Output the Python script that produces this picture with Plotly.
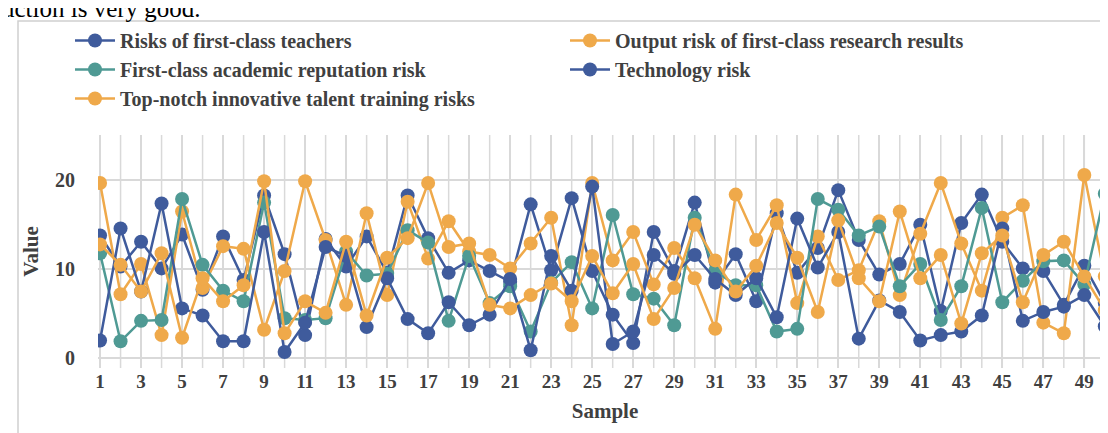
import plotly.graph_objects as go

samples = list(range(1, 51))

teachers = [13.8, 10.3, 13.1, 10.1, 13.9, 7.7, 13.7, 8.8, 18.3, 11.7, 2.6, 13.4, 10.3, 13.7, 9.6, 18.3, 13.5, 9.6, 11.0, 9.8,
            8.6, 17.3, 9.9, 18.0, 9.8, 4.9, 1.7, 14.2, 9.8, 17.5, 8.5, 11.7, 6.4, 16.3, 9.6, 12.4, 18.9, 13.3, 9.4, 10.6,
            15.0, 5.3, 15.2, 18.4, 13.1, 10.1, 9.8, 6.0, 10.4, 6.2]
output_research = [19.7, 7.2, 10.6, 2.6, 16.5, 7.9, 12.6, 12.3, 3.2, 9.8, 19.9, 13.3, 6.0, 16.3, 7.1, 17.6, 11.2, 15.4, 12.0, 11.6,
                   10.1, 12.9, 15.8, 3.7, 19.7, 11.0, 14.2, 8.3, 12.4, 9.0, 3.3, 18.4, 13.3, 17.2, 6.2, 13.7, 8.8, 9.9, 15.4, 7.1,
                   14.0, 19.7, 12.9, 7.6, 15.8, 17.2, 4.0, 2.8, 20.6, 9.2]
reputation = [11.8, 1.9, 4.2, 4.3, 17.9, 10.5, 7.6, 6.4, 17.5, 4.5, 4.3, 4.5, 12.0, 9.3, 9.5, 14.4, 13.0, 4.2, 11.5, 6.2,
              8.1, 3.0, 8.5, 10.8, 5.6, 16.1, 7.2, 6.7, 3.7, 15.8, 9.8, 8.2, 8.2, 3.0, 3.3, 17.9, 16.7, 13.8, 14.8, 8.1,
              10.6, 4.3, 8.1, 16.9, 6.3, 8.7, 10.9, 11.0, 8.3, 18.5]
technology = [2.0, 14.6, 7.5, 17.4, 5.6, 4.8, 1.9, 1.9, 14.2, 0.7, 4.0, 12.5, 11.5, 3.5, 9.0, 4.4, 2.8, 6.3, 3.7, 4.9,
              8.9, 0.9, 11.5, 7.6, 19.3, 1.6, 3.0, 11.6, 9.5, 11.6, 8.9, 7.1, 9.0, 4.6, 15.7, 10.2, 14.2, 2.2, 6.5, 5.2,
              2.0, 2.6, 3.0, 4.8, 14.6, 4.2, 5.2, 5.8, 7.1, 3.6]
talent = [12.8, 10.5, 7.5, 11.8, 2.3, 9.0, 6.4, 8.2, 19.9, 2.8, 6.4, 5.1, 13.1, 4.8, 11.3, 13.5, 19.7, 12.5, 12.9, 6.0,
          5.6, 7.1, 8.4, 6.4, 11.5, 7.3, 10.6, 4.4, 7.9, 15.0, 11.0, 7.5, 10.4, 15.2, 11.3, 5.2, 15.5, 9.0, 6.4, 16.5,
          9.0, 11.6, 3.9, 11.8, 13.8, 6.3, 11.6, 13.1, 9.2, 5.4]

names = ["Risks of first-class teachers", "Output risk of first-class research results",
         "First-class academic reputation risk", "Technology risk",
         "Top-notch innovative talent training risks"]
series = [teachers, output_research, reputation, technology, talent]
colors = ["#3F5B9C", "#EFA94A", "#4F9A94", "#3F5B9C", "#EFA94A"]

FONT = "Liberation Serif"

fig = go.Figure()
for name, vals, col in zip(names, series, colors):
    fig.add_trace(go.Scatter(
        x=samples, y=vals, name=name, mode="lines+markers",
        line=dict(color=col, width=2.5),
        marker=dict(color=col, size=14),
    ))

W, H = 1108, 433
L, R, T, B = 90, 4, 127, 73
pw, ph = W - L - R, H - T - B

def px_x(p):
    return (p - L) / pw

def px_y(p):
    return (H - B - p) / ph

fig.update_layout(
    width=W, height=H,
    margin=dict(l=L, r=R, t=T, b=B, autoexpand=False),
    paper_bgcolor="white", plot_bgcolor="white",
    font=dict(family=FONT, color="#404040", size=19),
    showlegend=True,
    legend=dict(
        orientation="h", xref="paper", yref="paper",
        x=px_x(62), y=px_y(13), xanchor="left", yanchor="top",
        entrywidth=440, entrywidthmode="pixels",
        font=dict(family=FONT, size=20, color="#404040", weight="bold"),
        itemwidth=40, tracegroupgap=0, bgcolor="rgba(0,0,0,0)",
    ),
    xaxis=dict(
        range=[0.9, 50.35], tickmode="array", tickvals=list(range(1, 51, 2)),
        showgrid=True, gridcolor="#D9D9D9", gridwidth=1.5, zeroline=False,
        showline=False, ticks="",
        tickfont=dict(family=FONT, size=19, color="#404040", weight="bold"),
        title=dict(text="Sample", font=dict(family=FONT, size=21, color="#404040", weight="bold"), standoff=12),
    ),
    yaxis=dict(
        range=[-1.1, 25.1], tickvals=[0, 10, 20],
        showgrid=True, gridcolor="#D9D9D9", gridwidth=1.5, zeroline=False,
        showline=False, ticks="", ticklabelstandoff=22,
        tickfont=dict(family=FONT, size=20, color="#404040", weight="bold"),
        title=dict(text="Value", font=dict(family=FONT, size=21, color="#404040", weight="bold"), standoff=10),
    ),
)

# vertical gridlines at every sample
for s in samples:
    fig.add_shape(type="line", xref="x", yref="paper", x0=s, x1=s, y0=0, y1=1,
                  line=dict(color="#D9D9D9", width=1.5), layer="below")

# outer border of the chart area
fig.add_shape(type="rect", xref="paper", yref="paper",
              x0=px_x(10), x1=px_x(1107), y0=px_y(432), y1=px_y(13),
              line=dict(color="#D0D0D0", width=1.5), fillcolor="rgba(0,0,0,0)", layer="below")

fig.add_annotation(text="uction is very good.", xref="paper", yref="paper",
                   x=px_x(-8), y=px_y(16), xanchor="left", yanchor="bottom",
                   showarrow=False, font=dict(family=FONT, size=25, color="black"))

fig.write_html("out.html")
